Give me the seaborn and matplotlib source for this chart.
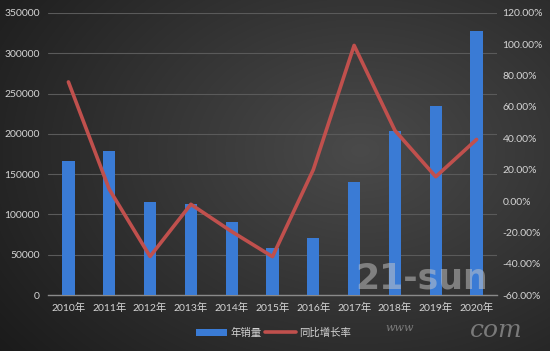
import numpy as np
import pandas as pd
import matplotlib
matplotlib.use("Agg")
import matplotlib.pyplot as plt
import seaborn as sns
from matplotlib.patches import Patch
from matplotlib.lines import Line2D
from matplotlib.ticker import FuncFormatter, MultipleLocator

years = ["2010年", "2011年", "2012年", "2013年", "2014年", "2015年",
         "2016年", "2017年", "2018年", "2019年", "2020年"]
sales = [166000, 178700, 115400, 113000, 91000, 58700,
         70400, 140200, 203500, 235000, 327300]
growth = [76.0, 7.5, -35.4, -2.1, -19.5, -35.5, 20.0, 99.3, 45.0, 15.5, 39.3]
legend_labels = ["年销量", "同比增长率"]

df = pd.DataFrame({"year": years, "sales": sales, "growth": growth})

sns.set_style("dark")
plt.rcParams["font.family"] = ["Lato", "Noto Sans CJK SC", "DejaVu Sans"]
TXT = "#d4d4d4"
BLUE = "#3a7bd5"
RED = "#c0504d"

fig = plt.figure(figsize=(5.5, 3.51), dpi=100)

# background gradient
bg = fig.add_axes([0, 0, 1, 1], zorder=-10)
yy, xx = np.mgrid[0:351, 0:550]
d = np.sqrt(((xx - 360) / 420.0) ** 2 + ((yy - 150) / 300.0) ** 2)
val = np.clip(0.29 - 0.17 * d, 0.10, 0.30)
bg.imshow(np.dstack([val, val, val]), aspect="auto", extent=[0, 1, 0, 1])
bg.set_axis_off()

ax = fig.add_axes([0.0873, 0.1595, 0.8163, 0.8035])
ax.set_facecolor("none")
sns.barplot(data=df, x="year", y="sales", color=BLUE, width=0.3,
            saturation=1, edgecolor="none", linewidth=0, ax=ax, zorder=3)
ax.set_ylim(0, 350000)
ax.set_xlim(-0.5, len(years) - 0.5)
ax.yaxis.set_major_locator(MultipleLocator(50000))
ax.grid(axis="y", color="#5a5a5a", linewidth=0.8, zorder=0)
ax.grid(axis="x", visible=False)
for s in ["top", "right", "left"]:
    ax.spines[s].set_visible(False)
ax.spines["bottom"].set_color("#8a8a8a")
ax.spines["bottom"].set_linewidth(1.0)
ax.set_xlabel("")
ax.set_ylabel("")
ax.tick_params(axis="both", length=0, colors=TXT, labelsize=7.5)
ax.tick_params(axis="y", pad=6)
ax.tick_params(axis="x", pad=6)

ax2 = ax.twinx()
sns.pointplot(data=df, x="year", y="growth", color=RED, markers="",
              linestyles="-", linewidth=2.6, ax=ax2)
ax2.set_ylim(-60, 120)
ax2.set_xlim(-0.5, len(years) - 0.5)
ax2.yaxis.set_major_locator(MultipleLocator(20))
ax2.yaxis.set_major_formatter(FuncFormatter(lambda v, p: f"{v:.2f}%"))
for s in ["top", "right", "left", "bottom"]:
    ax2.spines[s].set_visible(False)
ax2.set_ylabel("")
ax2.set_xlabel("")
ax2.grid(False)
ax2.tick_params(axis="y", length=0, colors=TXT, labelsize=7.5, pad=4)

handles = [Patch(facecolor=BLUE, edgecolor="none"),
           Line2D([0], [0], color=RED, linewidth=2.6)]
fig.legend(handles, legend_labels, loc="center", bbox_to_anchor=(0.497, 0.052),
           ncol=2, frameon=False, fontsize=7.5, labelcolor=TXT,
           handlelength=3.0, handleheight=0.6, columnspacing=0.3, handletextpad=0.3)

# watermark
fig.text(0.645, 0.178, "21-sun", fontsize=25, fontweight="bold",
         color="#c8c8c8", alpha=0.5, family="DejaVu Sans")
fig.text(0.70, 0.058, "www", fontsize=8, style="italic", color="#c8c8c8",
         alpha=0.5, family="DejaVu Serif")
fig.text(0.855, 0.04, "com", fontsize=18, style="italic", color="#c8c8c8",
         alpha=0.5, family="DejaVu Serif")

fig.savefig("out.png", dpi=100)
